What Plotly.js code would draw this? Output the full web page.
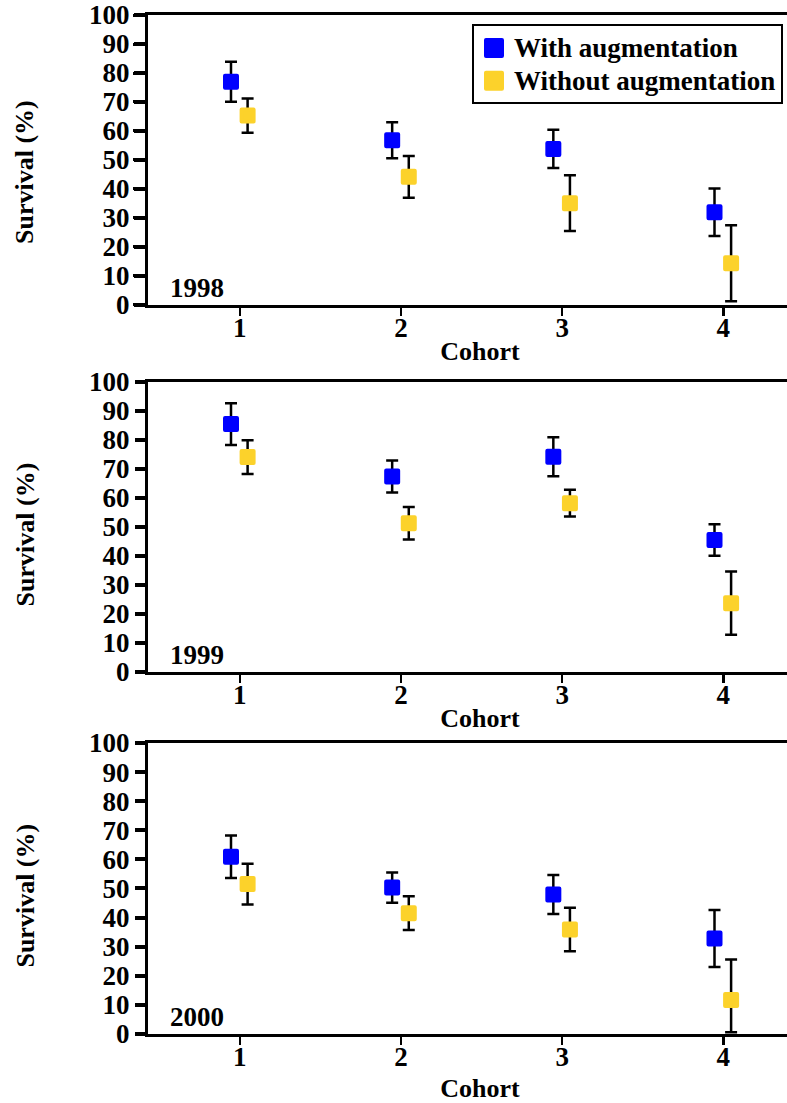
<!DOCTYPE html>
<html>
<head>
<meta charset="utf-8">
<script src="https://cdn.plot.ly/plotly-3.0.1.min.js"></script>
<style>
  html, body { margin: 0; padding: 0; overflow: hidden; background: #fff; }
  #chart { width: 812px; height: 1103px; }
  /* rounded square markers and rounded y tick ends */
  .point, .scatterpts { stroke-linejoin: round; }
  path.ytick { stroke-linecap: round; }
</style>
</head>
<body>
<div id="chart"></div>
<script>
// Cohort numbers on the x axis
const cohorts = [1, 2, 3, 4];
const yearLabels = ['1998', '1999', '2000'];
const seriesNames = ['With augmentation', 'Without augmentation'];
const yTitle = 'Survival (%)';
const xTitle = 'Cohort';

// Survival (%) with error bars, per year
const with1998 = [77.0, 56.8, 53.8, 32.0];
const withErr1998 = [6.9, 6.2, 6.6, 8.2];
const without1998 = [65.3, 44.2, 35.1, 14.4];
const withoutErr1998 = [5.9, 7.2, 9.6, 13.1];

const with1999 = [85.5, 67.4, 74.2, 45.5];
const withErr1999 = [7.2, 5.5, 6.7, 5.4];
const without1999 = [74.1, 51.3, 58.2, 23.7];
const withoutErr1999 = [5.8, 5.6, 4.6, 10.9];

const with2000 = [60.9, 50.3, 47.9, 32.8];
const withErr2000 = [7.3, 5.2, 6.7, 9.8];
const without2000 = [51.5, 41.5, 35.9, 11.7];
const withoutErr2000 = [7.0, 5.8, 7.5, 13.9];
const withoutErrMinus2000 = [7.0, 5.8, 7.5, 11.1];

const BLUE = '#0000ff';
const YELLOW = '#fcd22b';
const FONT = { family: '"Liberation Serif", "Times New Roman", serif', color: '#000', weight: 'bold' };
const font = size => Object.assign({ size: size }, FONT);

const panels = [
  { w: with1998, we: withErr1998, wo: without1998, woe: withoutErr1998, woem: withoutErr1998 },
  { w: with1999, we: withErr1999, wo: without1999, woe: withoutErr1999, woem: withoutErr1999 },
  { w: with2000, we: withErr2000, wo: without2000, woe: withoutErr2000, woem: withoutErrMinus2000 }
];

// panel vertical domains (paper fractions), top to bottom
const domains = [[0.7235, 0.9864], [0.3908, 0.6537], [0.0626, 0.3264]];
// vertical centre of each y-axis title (paper fraction)
const yTitlePos = [0.8441, 0.5155, 0.1881];
// gap between x tick labels and the x-axis title, per panel
const xTitleGap = [0, 0, 11];

function errBar(plus, minus) {
  return { type: 'data', symmetric: false, array: plus, arrayminus: minus,
           color: '#000', thickness: 2.5, width: 6 };
}

function marker(color) {
  return { symbol: 'square', size: 12, color: color, line: { color: color, width: 4 } };
}

const traces = [];
panels.forEach((p, i) => {
  const sfx = i === 0 ? '' : String(i + 1);
  traces.push({
    type: 'scatter', mode: 'markers', showlegend: false, name: seriesNames[0],
    x: cohorts.map(c => c - 0.055), y: p.w,
    xaxis: 'x' + sfx, yaxis: 'y' + sfx,
    marker: marker(BLUE), error_y: errBar(p.we, p.we), cliponaxis: false
  });
  traces.push({
    type: 'scatter', mode: 'markers', showlegend: false, name: seriesNames[1],
    x: cohorts.map(c => c + 0.048), y: p.wo,
    xaxis: 'x' + sfx, yaxis: 'y' + sfx,
    marker: marker(YELLOW), error_y: errBar(p.woe, p.woem), cliponaxis: false
  });
});

// legend entries (text drawn at 27px, rows spaced as for a smaller font)
[BLUE, YELLOW].forEach((c, k) => {
  traces.push({
    type: 'scatter', mode: 'markers',
    name: '<span style="font-size:27px">' + seriesNames[k] + '</span>',
    x: [null], y: [null], xaxis: 'x', yaxis: 'y',
    marker: { symbol: 'square', size: 16, color: c, line: { color: c, width: 4 } }
  });
});

const layout = {
  width: 812, height: 1103,
  margin: { l: 148, r: 0, t: 0, b: 0 },
  paper_bgcolor: '#fff', plot_bgcolor: '#fff',
  font: font(27),
  showlegend: true,
  legend: {
    x: 0.9563, xanchor: 'right', y: 0.9778, yanchor: 'top',
    bgcolor: '#fff', bordercolor: '#000', borderwidth: 2,
    font: font(23)
  },
  annotations: []
};

domains.forEach((d, i) => {
  const sfx = i === 0 ? '' : String(i + 1);
  layout['xaxis' + sfx] = {
    domain: [0, 1], anchor: 'y' + sfx,
    range: [0.43, 4.55], tickvals: cohorts, ticktext: cohorts.map(String),
    ticks: 'outside', ticklen: 8, tickwidth: 2.5, tickcolor: '#000',
    ticklabelstandoff: -11,
    showline: true, linewidth: 3, linecolor: '#000', mirror: true,
    showgrid: false, zeroline: false,
    tickfont: font(27),
    title: { text: xTitle, font: font(26), standoff: xTitleGap[i] }
  };
  layout['yaxis' + sfx] = {
    domain: d, anchor: 'x' + sfx,
    range: [0, 100], dtick: 10, tick0: 0,
    ticks: 'outside', ticklen: 10, tickwidth: 4, tickcolor: '#000',
    showline: true, linewidth: 3, linecolor: '#000',
    showgrid: false, zeroline: false,
    tickfont: font(27)
  };
  layout.annotations.push({
    text: yTitle, showarrow: false, textangle: -90,
    xref: 'paper', yref: 'paper', x: -0.1852, y: yTitlePos[i],
    xanchor: 'center', yanchor: 'middle', font: font(26)
  });
  layout.annotations.push({
    text: yearLabels[i], showarrow: false,
    xref: 'x' + sfx + ' domain', yref: 'y' + sfx + ' domain',
    x: 0.03, y: 0.058, xanchor: 'left', yanchor: 'middle',
    font: font(27)
  });
});

Plotly.newPlot('chart', traces, layout, { staticPlot: true, displayModeBar: false });
</script>
</body>
</html>
